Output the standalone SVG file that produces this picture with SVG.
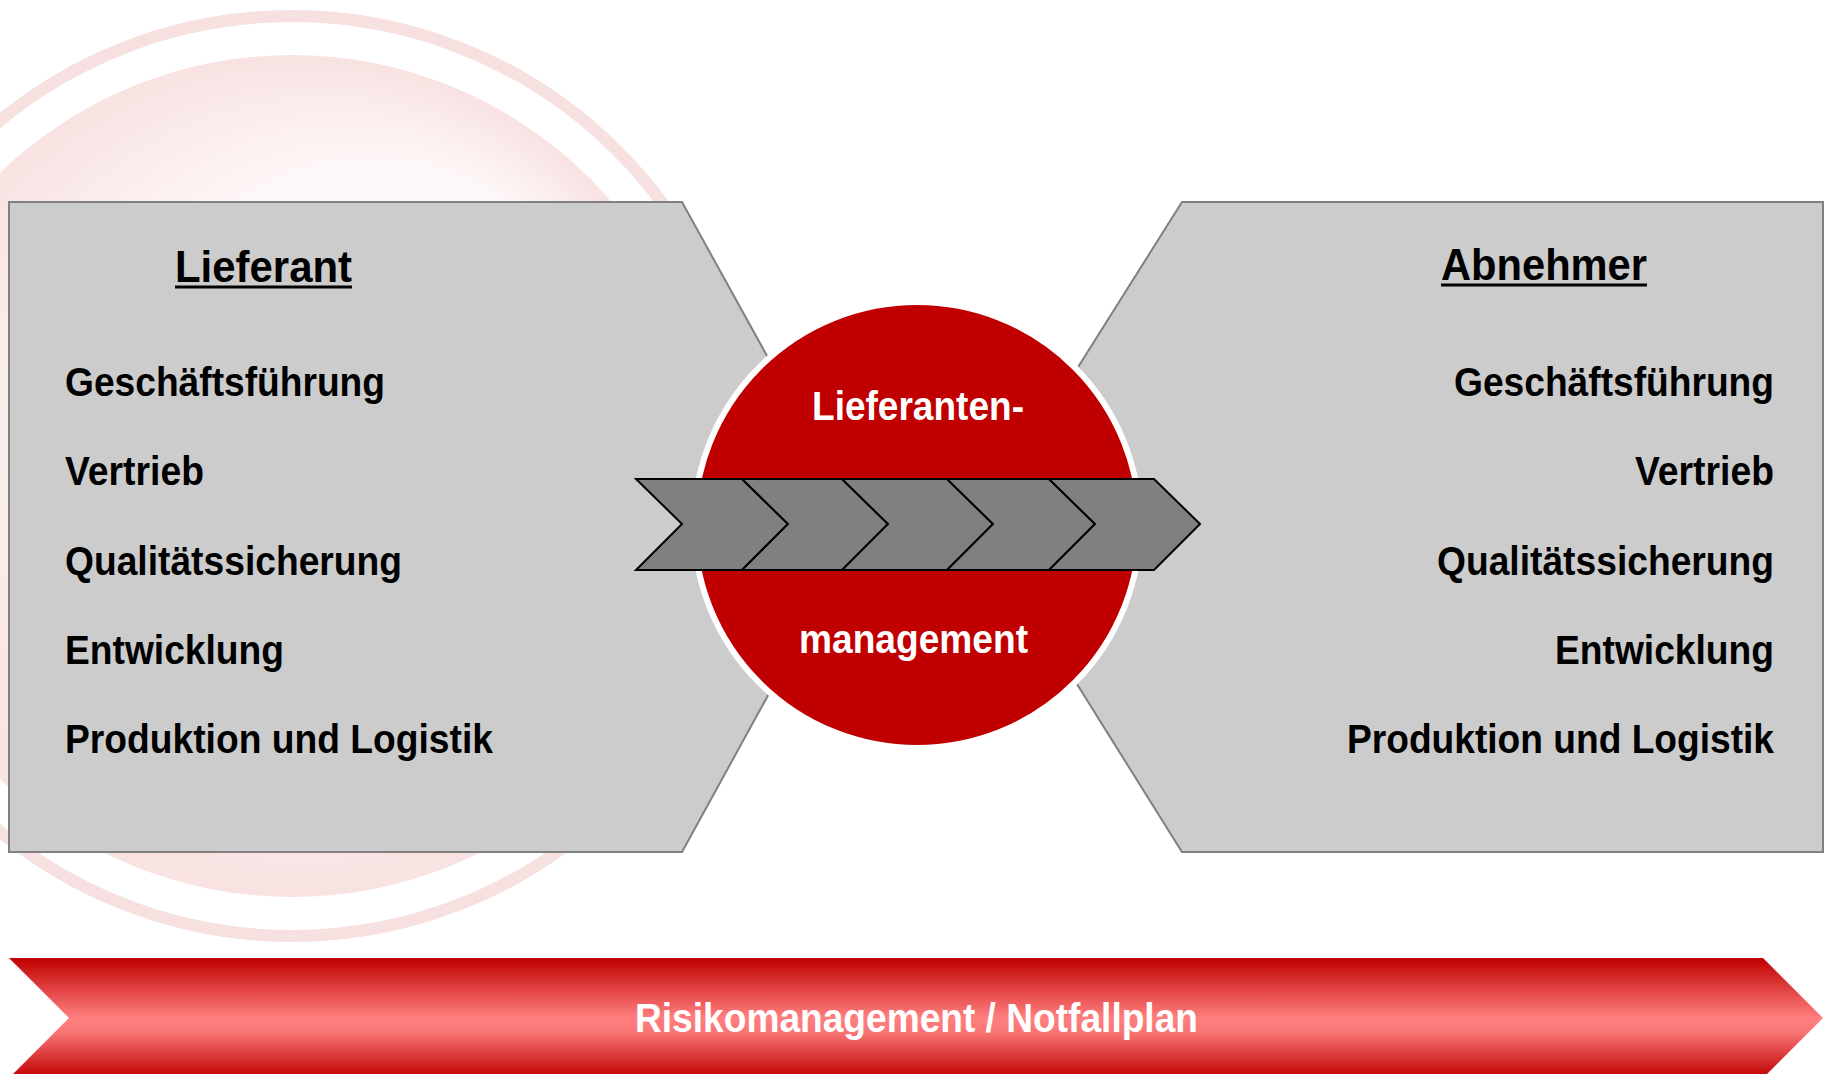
<svg xmlns="http://www.w3.org/2000/svg" width="1829" height="1074" viewBox="0 0 1829 1074">
<defs>
<radialGradient id="bgDisk" cx="0.5" cy="0.5" r="0.5" fx="0.72" fy="0.28">
<stop offset="0" stop-color="#FFFFFF"/>
<stop offset="0.55" stop-color="#FEF7F7"/>
<stop offset="1" stop-color="#F8E2E2"/>
</radialGradient>
<linearGradient id="riskGrad" x1="0" y1="958" x2="0" y2="1078" gradientUnits="userSpaceOnUse">
<stop offset="0" stop-color="#C00000"/>
<stop offset="0.5" stop-color="#FF7F7F"/>
<stop offset="0.62" stop-color="#F87474"/>
<stop offset="1" stop-color="#C00000"/>
</linearGradient>
</defs>
<style>
.panel{fill:#CCCCCC;stroke:#808080;stroke-width:2}
.item{font-family:"Liberation Sans",Arial,sans-serif;font-weight:bold;font-size:40px;fill:#000}
.title{font-family:"Liberation Sans",Arial,sans-serif;font-weight:bold;font-size:44px;fill:#000}
.uline{stroke:#000;stroke-width:3}
.white{font-family:"Liberation Sans",Arial,sans-serif;font-weight:bold;font-size:40px;fill:#FFFFFF}
.chev{fill:#808080;stroke:#000;stroke-width:2;stroke-linejoin:miter}
</style>
<rect width="1829" height="1074" fill="#FFFFFF"/>
<g id="background">
<circle cx="292" cy="476" r="421" fill="url(#bgDisk)"/>
<circle cx="292" cy="476" r="460" fill="none" stroke="#F7E0E0" stroke-width="12"/>
</g>
<g id="lieferant">
<polygon class="panel" points="9,202 682,202 861,526 682,852 9,852"/>
<text class="title" x="175" y="282" textLength="177" lengthAdjust="spacingAndGlyphs">Lieferant</text>
<line class="uline" x1="175" y1="287" x2="352" y2="287"/>
<text class="item" x="65" y="396" textLength="320" lengthAdjust="spacingAndGlyphs">Geschäftsführung</text>
<text class="item" x="65" y="485" textLength="139" lengthAdjust="spacingAndGlyphs">Vertrieb</text>
<text class="item" x="65" y="575" textLength="337" lengthAdjust="spacingAndGlyphs">Qualitätssicherung</text>
<text class="item" x="65" y="664" textLength="219" lengthAdjust="spacingAndGlyphs">Entwicklung</text>
<text class="item" x="65" y="753" textLength="428" lengthAdjust="spacingAndGlyphs">Produktion und Logistik</text>
</g>
<g id="abnehmer">
<polygon class="panel" points="1182,202 1823,202 1823,852 1182,852 978,526"/>
<text class="title" x="1441" y="280" textLength="206" lengthAdjust="spacingAndGlyphs">Abnehmer</text>
<line class="uline" x1="1441" y1="285" x2="1647" y2="285"/>
<text class="item" x="1454" y="396" textLength="320" lengthAdjust="spacingAndGlyphs">Geschäftsführung</text>
<text class="item" x="1635" y="485" textLength="139" lengthAdjust="spacingAndGlyphs">Vertrieb</text>
<text class="item" x="1437" y="575" textLength="337" lengthAdjust="spacingAndGlyphs">Qualitätssicherung</text>
<text class="item" x="1555" y="664" textLength="219" lengthAdjust="spacingAndGlyphs">Entwicklung</text>
<text class="item" x="1347" y="753" textLength="427" lengthAdjust="spacingAndGlyphs">Produktion und Logistik</text>
</g>
<g id="lieferantenmanagement">
<circle cx="917" cy="525" r="223" fill="#C00000" stroke="#FFFFFF" stroke-width="6"/>
<text class="white" x="812" y="420" textLength="212" lengthAdjust="spacingAndGlyphs">Lieferanten-</text>
<text class="white" x="799" y="653" textLength="229" lengthAdjust="spacingAndGlyphs">management</text>
</g>
<g id="prozesskette">
<polygon class="chev" points="636,479 742,479 788,524 742,570 636,570 682,524"/>
<polygon class="chev" points="742,479 842,479 888,524 842,570 742,570 788,524"/>
<polygon class="chev" points="842,479 947,479 993,524 947,570 842,570 888,524"/>
<polygon class="chev" points="947,479 1049,479 1095,524 1049,570 947,570 993,524"/>
<polygon class="chev" points="1049,479 1154,479 1200,524 1154,570 1049,570 1095,524"/>
</g>
<g id="risikomanagement">
<polygon points="9,958 1763,958 1823,1018 1763,1078 9,1078 69,1018" fill="url(#riskGrad)"/>
<text class="white" x="635" y="1032" textLength="563" lengthAdjust="spacingAndGlyphs">Risikomanagement / Notfallplan</text>
</g>
<g id="connectors"/>
</svg>
